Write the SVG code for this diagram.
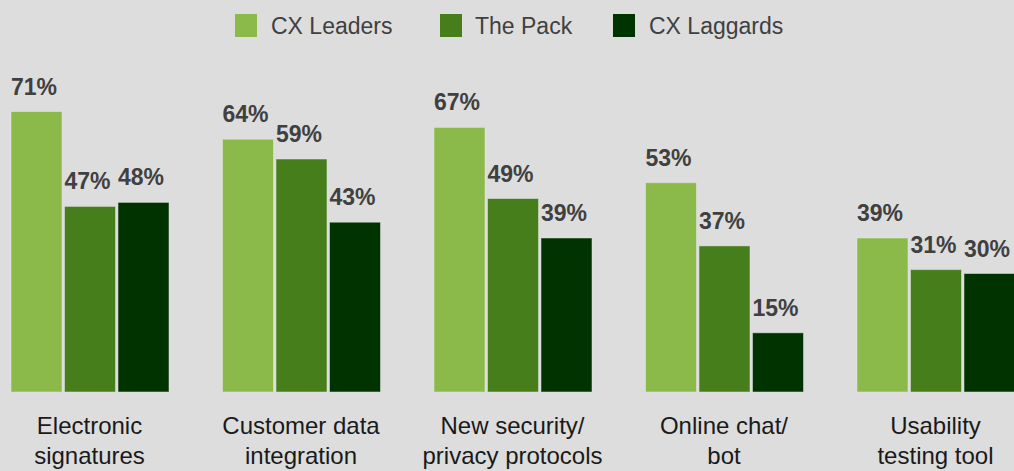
<svg xmlns="http://www.w3.org/2000/svg" width="1014" height="471" viewBox="0 0 1014 471">
<style>
.bg{fill:#dddddd}
.l{fill:#8bba4b}
.m{fill:#477e1c}
.d{fill:#003300}
.bar{stroke:#e8e8e8;stroke-opacity:0.5;stroke-width:1}
.val{font-family:"Liberation Sans",Arial,sans-serif;font-weight:bold;font-size:23px;fill:#404040}
.cat{font-family:"Liberation Sans",Arial,sans-serif;font-size:24px;fill:#1a1a1a;text-anchor:middle}
.leg{font-family:"Liberation Sans",Arial,sans-serif;font-size:23px;fill:#404040}
</style>
<rect class="bg" x="0" y="0" width="1014" height="471"/>
<g id="legend">
<rect class="l" x="235" y="14" width="22" height="23"/>
<text class="leg" x="271" y="34">CX Leaders</text>
<rect class="m" x="440" y="14" width="22" height="23"/>
<text class="leg" x="475" y="34">The Pack</text>
<rect class="d" x="613" y="14" width="22" height="23"/>
<text class="leg" x="649" y="34">CX Laggards</text>
</g>
<g id="group-electronic-signatures">
<rect class="bar l" x="11" y="111.5" width="51" height="280.5"/>
<rect class="bar m" x="64.5" y="206.4" width="51" height="185.6"/>
<rect class="bar d" x="118" y="202.4" width="51" height="189.6"/>
<text class="val" x="11" y="94.5">71%</text>
<text class="val" x="64.5" y="189.4">47%</text>
<text class="val" x="118" y="185.4">48%</text>
<text class="cat" x="89.5" y="434">Electronic</text>
<text class="cat" x="89.5" y="464">signatures</text>
</g>
<g id="group-customer-data-integration">
<rect class="bar l" x="222.5" y="139.2" width="51" height="252.8"/>
<rect class="bar m" x="276" y="159" width="51" height="233"/>
<rect class="bar d" x="329.5" y="222.2" width="51" height="169.8"/>
<text class="val" x="222.5" y="122.2">64%</text>
<text class="val" x="276" y="142">59%</text>
<text class="val" x="329.5" y="205.2">43%</text>
<text class="cat" x="301" y="434">Customer data</text>
<text class="cat" x="301" y="464">integration</text>
</g>
<g id="group-new-security">
<rect class="bar l" x="434" y="127.4" width="51" height="264.6"/>
<rect class="bar m" x="487.5" y="198.5" width="51" height="193.5"/>
<rect class="bar d" x="541" y="238" width="51" height="154"/>
<text class="val" x="434" y="110.4">67%</text>
<text class="val" x="487.5" y="181.5">49%</text>
<text class="val" x="541" y="221">39%</text>
<text class="cat" x="512.5" y="434">New security/</text>
<text class="cat" x="512.5" y="464">privacy protocols</text>
</g>
<g id="group-online-chat">
<rect class="bar l" x="645.5" y="182.7" width="51" height="209.3"/>
<rect class="bar m" x="699" y="245.9" width="51" height="146.1"/>
<rect class="bar d" x="752.5" y="332.8" width="51" height="59.2"/>
<text class="val" x="645.5" y="165.7">53%</text>
<text class="val" x="699" y="228.9">37%</text>
<text class="val" x="752.5" y="315.8">15%</text>
<text class="cat" x="724" y="434">Online chat/</text>
<text class="cat" x="724" y="464">bot</text>
</g>
<g id="group-usability-testing">
<rect class="bar l" x="857" y="238" width="51" height="154"/>
<rect class="bar m" x="910.5" y="269.6" width="51" height="122.4"/>
<rect class="bar d" x="964" y="273.5" width="51" height="118.5"/>
<text class="val" x="857" y="221">39%</text>
<text class="val" x="910.5" y="252.6">31%</text>
<text class="val" x="964" y="256.5">30%</text>
<text class="cat" x="935.5" y="434">Usability</text>
<text class="cat" x="935.5" y="464">testing tool</text>
</g>
</svg>
